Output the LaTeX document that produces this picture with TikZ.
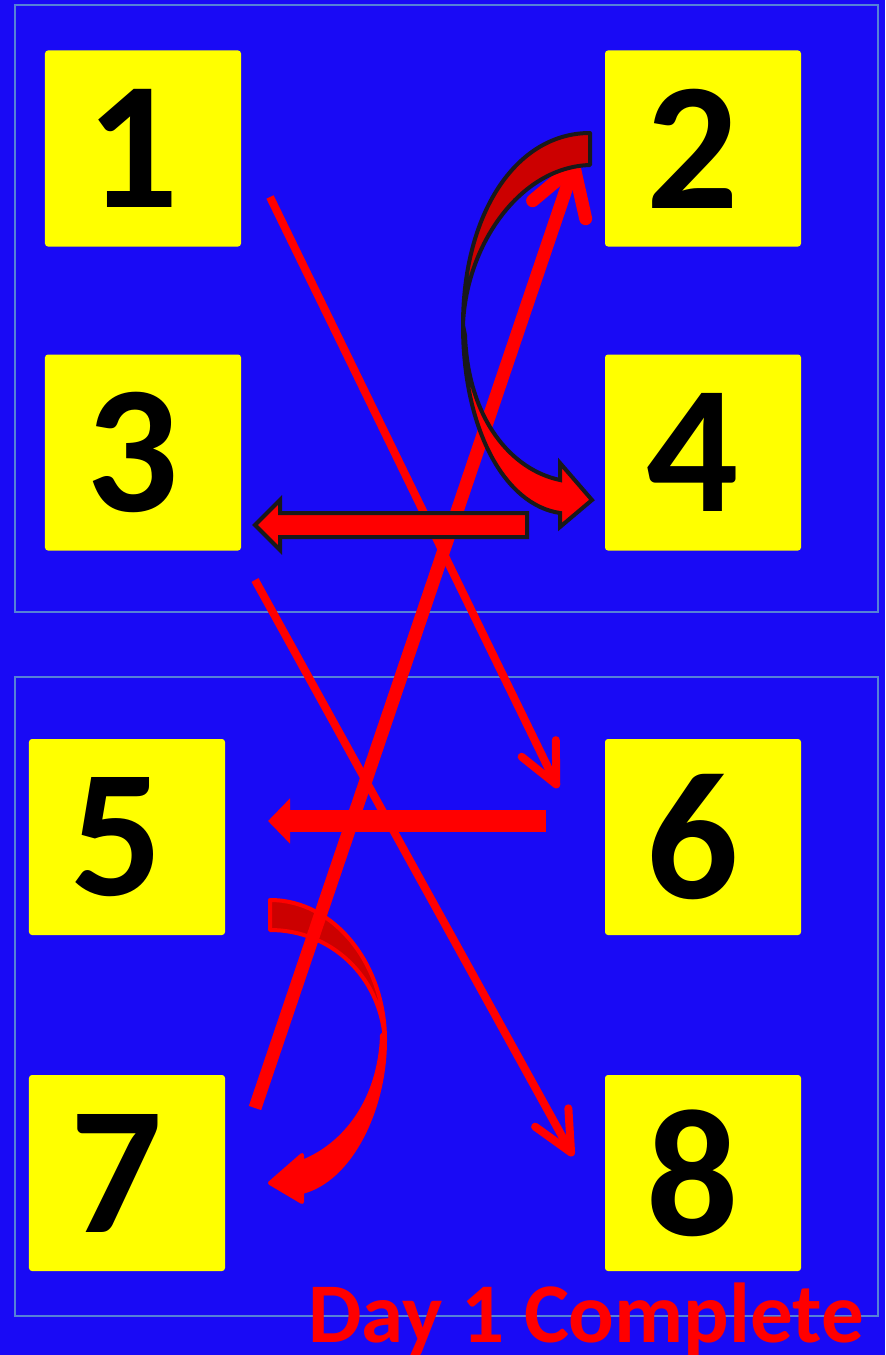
\documentclass[tikz,border=0pt]{standalone}
\usepackage{fontspec}
\setmainfont{Carlito}
\usetikzlibrary{arrows.meta}
\definecolor{bgblue}{RGB}{25,10,245}
\definecolor{framegray}{RGB}{85,130,215}
\definecolor{darkred}{RGB}{204,0,0}
\definecolor{tileyellow}{RGB}{255,255,0}
\begin{document}
\begin{tikzpicture}[x=1bp,y=-1bp,
  tile/.style={fill=tileyellow,rounded corners=3bp,minimum size=196bp,inner sep=0pt,
    font=\fontsize{182bp}{182bp}\selectfont\bfseries,execute at begin node=\kern-20bp},
  frame/.style={draw=framegray,line width=1.6bp},
  thinmove/.style={red,line width=8bp,-{Straight Barb[length=40bp,width=38bp,round]}},
  thickmove/.style={red,line width=13bp,-{Straight Barb[length=46bp,width=56bp,round]}},
  barmove/.style={red,line width=22bp,-{Triangle[length=22bp,width=44bp]}}]
\useasboundingbox (0,0) rectangle (885,1355);
\fill[bgblue] (0,0) rectangle (885,1355);
\draw[frame] (15,5) rectangle (878,612);
\draw[frame] (15,677) rectangle (878,1316);
\node[tile] (t1) at (143,148.5) {1};
\node[tile] (t2) at (703,148.5) {2};
\node[tile] (t3) at (143,452.5) {3};
\node[tile] (t4) at (703,452.5) {4};
\node[tile] (t5) at (127,837) {5};
\node[tile] (t6) at (703,837) {6};
\node[tile] (t7) at (127,1173) {7};
\node[tile] (t8) at (703,1173) {8};
% lower curved arrow
\filldraw[darkred,draw=red,line width=4bp,line join=round] (270,900) .. controls (335,900) and (385,965) .. (385,1040)
  .. controls (380,975) and (330,930) .. (270,930) -- cycle;
\filldraw[red,line width=4bp,line join=round] (385,1040) .. controls (385,1110) and (350,1180) .. (302,1192)
  -- (302,1202) -- (270,1183) -- (302,1155) -- (302,1162)
  .. controls (345,1145) and (380,1100) .. (382,1035) -- cycle;
\coordinate (a1) at (270,197);
\coordinate (a2) at (558,788);
\coordinate (b1) at (255,580);
\coordinate (b2) at (573,1156);
\coordinate (c1) at (255,1108);
\coordinate (c2) at (576,160);
\coordinate (d1) at (546,821);
\coordinate (d2) at (268,821);
\draw[thinmove] (a1) -- (a2);
\draw[thinmove] (b1) -- (b2);
\draw[thickmove] (c1) -- (c2);
\draw[barmove] (d1) -- (d2);
% block arrow
\filldraw[fill=red,draw=black!90,line width=4bp,line join=miter]
  (527,513) -- (280,513) -- (280,500) -- (255,525) -- (280,550) -- (280,537) -- (527,537) -- cycle;
% upper curved arrow
\filldraw[fill=darkred,draw=black!90,line width=4bp,line join=round]
  (590,133) .. controls (515,133) and (463,215) .. (463,325)
  .. controls (466,245) and (520,167) .. (590,165) -- cycle;
\filldraw[fill=red,draw=black!90,line width=4bp,line join=miter]
  (463,325) .. controls (463,430) and (505,505) .. (560,513) -- (560,527) -- (592,500) -- (560,463) -- (560,480)
  .. controls (512,470) and (468,420) .. (465,335) -- cycle;
\node[anchor=base west,text=red,inner sep=0pt,font=\fontsize{85bp}{85bp}\selectfont\bfseries] (done) at (308,1342) {Day 1 Complete};
\end{tikzpicture}
\end{document}
